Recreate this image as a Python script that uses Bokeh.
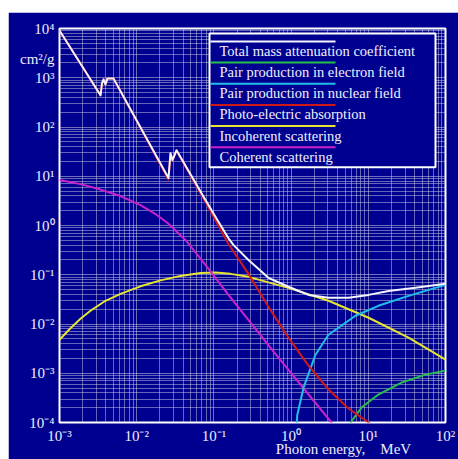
from bokeh.plotting import figure
from bokeh.models import Range1d, FixedTicker, CustomJSTickFormatter, LogAxis
from bokeh.core.properties import value
from bokeh.embed import file_html
from bokeh.resources import INLINE

# ---------------- data ----------------
x_ticks = [1e-3, 1e-2, 1e-1, 1e0, 1e1, 1e2]
y_ticks = [1e-4, 1e-3, 1e-2, 1e-1, 1e0, 1e1, 1e2, 1e3, 1e4]

total_e = [0.001, 0.0034, 0.00355, 0.00372, 0.00394, 0.00419, 0.0050, 0.010, 0.0258,
           0.0274, 0.0291, 0.0328, 0.0778, 0.111, 0.1545, 0.18, 0.2805, 0.509, 0.925,
           1.68, 3.05, 5.54, 10.1, 18.3, 40.8, 100]
total_v = [9100, 440, 770, 927, 734, 971, 971, 135, 9.2,
           29.4, 21.2, 33.8, 3.28, 1.29, 0.55, 0.40, 0.20, 0.0865, 0.057,
           0.039, 0.034, 0.034, 0.039, 0.047, 0.0542, 0.066]

pair_el_e = [5.3, 5.88, 8.17, 13.5, 26.9, 55.1, 100]
pair_el_v = [5.5e-5, 1.0e-4, 2.01e-4, 3.69e-4, 6.46e-4, 9.37e-4, 1.13e-3]

pair_nuc_e = [1.1, 1.2, 1.45, 2.07, 3.05, 6.82, 13.5, 33.2, 100]
pair_nuc_v = [1e-5, 1.4e-4, 5.1e-4, 0.00238, 0.00605, 0.0147, 0.0234, 0.0373, 0.0624]

photo_e = [0.001, 0.0034, 0.00355, 0.00372, 0.00394, 0.00419, 0.0050, 0.010, 0.0258,
           0.0274, 0.0291, 0.0328, 0.0778, 0.111, 0.1545, 0.2805, 0.509, 0.925,
           1.68, 3.05, 5.54, 10.1, 14.0]
photo_v = [9090, 436, 766, 922, 729, 966, 966, 133, 8.6,
           28.7, 20.5, 33.0, 3.0, 1.08, 0.42, 0.104, 0.0223, 0.00527,
           0.00143, 4.66e-4, 1.92e-4, 1.0e-4, 6.5e-5]

incoh_e = [0.001, 0.001388, 0.00187, 0.002521, 0.003944, 0.00616, 0.0112, 0.02034,
           0.03694, 0.0671, 0.1049, 0.1641, 0.2807, 0.925, 3.05, 10.1, 33.2, 100]
incoh_v = [0.0048, 0.0082, 0.01277, 0.01855, 0.0296, 0.041, 0.0582, 0.0769,
           0.0948, 0.109, 0.1117, 0.1042, 0.0906, 0.0542, 0.0296, 0.0134, 0.00527, 0.00189]

coh_e = [0.001, 0.00187, 0.0034, 0.00616, 0.0112, 0.01754, 0.0251, 0.0428, 0.0778,
         0.1545, 0.593, 3.33, 3.6]
coh_v = [8.36, 6.92, 5.36, 3.96, 2.60, 1.71, 1.12, 0.508, 0.158,
         0.039, 0.00274, 1.0e-4, 8.6e-5]

series_names = ["Total mass attenuation coefficient",
                "Pair production in electron field",
                "Pair production in nuclear field",
                "Photo-electric absorption",
                "Incoherent scattering",
                "Coherent scattering"]
series_colors = ["#F4F4FF", "#28C048", "#22BEEA", "#D01818", "#E6E632", "#CC22CC"]

y_unit_label = "cm\u00b2/g"
x_title = "Photon energy,\u00a0\u00a0\u00a0 MeV"

# ---------------- styling ----------------
NAVY = "#000090"
FONT = "Liberation Serif"
TXT = "#EEEEF8"
XLO, XHI = -3, 2
YLO, YHI = -4, 4
# frame in page pixels (used only to place the legend / titles)
FL, FR, FT, FB = 59, 445, 28, 423


def px2x(px):
    return 10 ** (XLO + (px - FL) / (FR - FL) * (XHI - XLO))


def py2y(py):
    return 10 ** (YHI - (py - FT) / (FB - FT) * (YHI - YLO))


p = figure(width=450, height=447, x_axis_type="log", y_axis_type="log",
           x_range=Range1d(10 ** XLO, 10 ** XHI), y_range=Range1d(10 ** YLO, 10 ** YHI),
           output_backend="svg", toolbar_location=None,
           min_border_left=51, min_border_right=13, min_border_top=16, min_border_bottom=36,
           background_fill_color=NAVY, border_fill_color=NAVY,
           margin=(12, 0, 0, 8))

minor_x = [m * 10 ** e for e in range(XLO, XHI) for m in range(2, 10)]
minor_y = [m * 10 ** e for e in range(YLO, YHI) for m in range(2, 10)]

# y axis: decades plus the unit label placed between 10^3 and 10^4
p.xaxis.ticker = FixedTicker(ticks=x_ticks, minor_ticks=minor_x)
p.yaxis.ticker = FixedTicker(ticks=y_ticks + [py2y(59)], minor_ticks=minor_y)
p.xgrid[0].ticker = FixedTicker(ticks=x_ticks, minor_ticks=minor_x)
p.ygrid[0].ticker = FixedTicker(ticks=y_ticks, minor_ticks=minor_y)

fmt_code = """
const e = Math.log10(tick);
const r = Math.round(e);
if (Math.abs(e - r) > 0.01) { return UNIT; }
const sup = {'-':'\\u207b','0':'\\u2070','1':'\\u00b9','2':'\\u00b2','3':'\\u00b3','4':'\\u2074',
             '5':'\\u2075','6':'\\u2076','7':'\\u2077','8':'\\u2078','9':'\\u2079'};
return '10' + String(r).split('').map(c => sup[c]).join('');
"""
for ax in (p.xaxis[0], p.yaxis[0]):
    ax.formatter = CustomJSTickFormatter(code=fmt_code, args=dict(UNIT=y_unit_label))
    ax.axis_line_color = None
    ax.major_tick_line_color = None
    ax.minor_tick_line_color = None
    ax.major_tick_out = 0
    ax.major_tick_in = 0
    ax.minor_tick_out = 0
    ax.minor_tick_in = 0
    ax.major_label_text_color = TXT
    ax.major_label_text_font = FONT
    ax.major_label_text_font_size = "15px"
p.xaxis[0].major_label_standoff = 5
p.yaxis[0].major_label_standoff = 5

# x title as a second (label-only) axis below
xt = LogAxis(ticker=FixedTicker(ticks=[px2x(343)], minor_ticks=[]),
             formatter=CustomJSTickFormatter(code="return T;", args=dict(T=x_title)),
             axis_line_color=None, major_tick_line_color=None, minor_tick_line_color=None,
             major_tick_out=0, major_tick_in=0, minor_tick_out=0, minor_tick_in=0,
             major_label_text_color=TXT, major_label_text_font=FONT,
             major_label_text_font_size="15px", major_label_standoff=-6)
p.add_layout(xt, "below")

for g in (p.xgrid[0], p.ygrid[0]):
    g.grid_line_color = "#C8C8E0"
    g.grid_line_alpha = 0.55
    g.grid_line_width = 1
    g.minor_grid_line_color = "#C8C8E0"
    g.minor_grid_line_alpha = 0.5
    g.minor_grid_line_width = 1

p.outline_line_color = "white"
p.outline_line_width = 2
p.outline_line_alpha = 1.0

# curves (drawn bottom to top; total last)
order = [(incoh_e, incoh_v, 4), (coh_e, coh_v, 5), (pair_el_e, pair_el_v, 1),
         (pair_nuc_e, pair_nuc_v, 2), (photo_e, photo_v, 3), (total_e, total_v, 0)]
for xs, ys, i in order:
    p.line(xs, ys, line_color=series_colors[i], line_width=2, line_join="round")

# legend box (line above each label, as in the reference)
p.quad(left=[px2x(209)], right=[px2x(435)], top=[py2y(33)], bottom=[py2y(167)],
       fill_color=NAVY, fill_alpha=1.0, line_color="white", line_width=2, level="overlay")
for i, (name, col) in enumerate(zip(series_names, series_colors)):
    ly = 41 + 21.2 * i
    p.segment(x0=[px2x(210)], y0=[py2y(ly)], x1=[px2x(335)], y1=[py2y(ly)],
              line_color=col, line_width=2, level="overlay")
    p.text(x=[px2x(219)], y=[py2y(ly + 9.5)], text=[name], text_color="#F0F0FA",
           text_font=value(FONT), text_font_size="14.5px", text_baseline="middle",
           level="overlay")

open("out.html", "w").write(file_html(p, INLINE))
